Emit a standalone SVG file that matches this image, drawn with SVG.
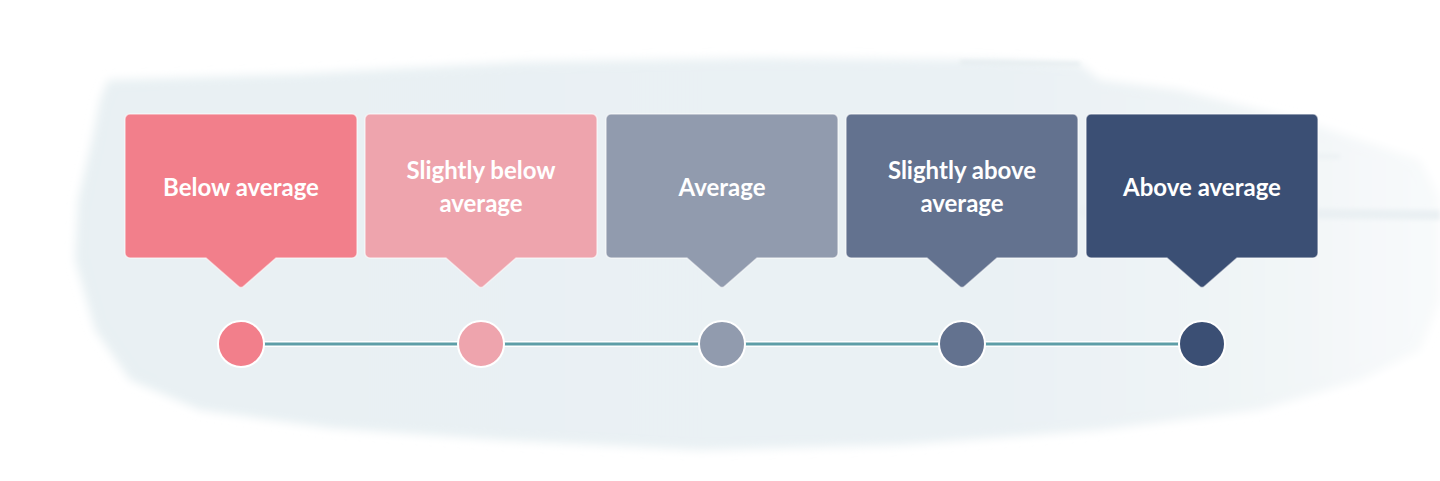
<svg xmlns="http://www.w3.org/2000/svg" width="1440" height="481" viewBox="0 0 1440 481">
<style>
.box{stroke:#ffffff;stroke-opacity:0.55;stroke-width:1.5;stroke-linejoin:round}
.lbl{font-family:Lato,"Open Sans","Liberation Sans",sans-serif;font-weight:700;font-size:24px;fill:#ffffff;text-anchor:middle}
.dot{stroke:#ffffff;stroke-width:2}
</style>
<defs>
<filter id="soft" x="-5%" y="-10%" width="110%" height="120%"><feGaussianBlur stdDeviation="5"/></filter>
<filter id="soft2" x="-5%" y="-50%" width="110%" height="200%"><feGaussianBlur stdDeviation="2"/></filter>
<linearGradient id="fade" x1="0" y1="0" x2="1440" y2="0" gradientUnits="userSpaceOnUse">
<stop offset="0" stop-color="#e8f0f3"/>
<stop offset="0.7" stop-color="#eaf1f4"/>
<stop offset="0.85" stop-color="#eff4f6"/>
<stop offset="1" stop-color="#f8fafb"/>
</linearGradient>
</defs>
<rect width="1440" height="481" fill="#ffffff"/>
<g id="background">
<path d="M108 80 L300 74 L520 62 L760 58 L1000 60 L1080 64 L1100 80 L1180 90 L1300 120 L1420 160 L1440 200 L1440 300 L1420 350 L1360 380 L1260 410 L1100 430 L900 445 L700 450 L500 440 L330 428 L200 410 L130 380 L95 330 L75 260 L78 200 L92 140 L100 100 Z" fill="url(#fade)" filter="url(#soft)"/>
<path d="M1080 206 L1440 210 L1440 220 L1080 217 Z" fill="#eaf0f3" filter="url(#soft2)"/>
<path d="M1100 150 L1340 154 L1340 159 L1100 158 Z" fill="#edf2f4" filter="url(#soft2)"/>
<path d="M960 60 L1080 62 L1080 66 L960 65 Z" fill="#e6edf0" filter="url(#soft2)"/>
</g>
<g id="connectors">
<line x1="241" y1="344" x2="1202" y2="344" stroke="#ffffff" stroke-width="6"/>
<line x1="241" y1="344" x2="1202" y2="344" stroke="#5e9ea7" stroke-width="3"/>
</g>
<g id="node1">
<path class="box" fill="#f27f8b" d="M130 114 H352 A5 5 0 0 1 357 119 V253 A5 5 0 0 1 352 258 H276 L244 286 Q241 289 238 286 L206 258 H130 A5 5 0 0 1 125 253 V119 A5 5 0 0 1 130 114 Z"/>
<text class="lbl" x="241" y="196">Below average</text>
<circle class="dot" cx="241" cy="344" r="23" fill="#f27f8b"/>
</g>
<g id="node2">
<path class="box" fill="#eea4ad" d="M370 114 H592 A5 5 0 0 1 597 119 V253 A5 5 0 0 1 592 258 H516 L484 286 Q481 289 478 286 L446 258 H370 A5 5 0 0 1 365 253 V119 A5 5 0 0 1 370 114 Z"/>
<text class="lbl" x="481" y="179">Slightly below</text>
<text class="lbl" x="481" y="212">average</text>
<circle class="dot" cx="481" cy="344" r="23" fill="#eea4ad"/>
</g>
<g id="node3">
<path class="box" fill="#919bae" d="M611 114 H833 A5 5 0 0 1 838 119 V253 A5 5 0 0 1 833 258 H757 L725 286 Q722 289 719 286 L687 258 H611 A5 5 0 0 1 606 253 V119 A5 5 0 0 1 611 114 Z"/>
<text class="lbl" x="722" y="196">Average</text>
<circle class="dot" cx="722" cy="344" r="23" fill="#919bae"/>
</g>
<g id="node4">
<path class="box" fill="#63728f" d="M851 114 H1073 A5 5 0 0 1 1078 119 V253 A5 5 0 0 1 1073 258 H997 L965 286 Q962 289 959 286 L927 258 H851 A5 5 0 0 1 846 253 V119 A5 5 0 0 1 851 114 Z"/>
<text class="lbl" x="962" y="179">Slightly above</text>
<text class="lbl" x="962" y="212">average</text>
<circle class="dot" cx="962" cy="344" r="23" fill="#63728f"/>
</g>
<g id="node5">
<path class="box" fill="#3b4f74" d="M1091 114 H1313 A5 5 0 0 1 1318 119 V253 A5 5 0 0 1 1313 258 H1237 L1205 286 Q1202 289 1199 286 L1167 258 H1091 A5 5 0 0 1 1086 253 V119 A5 5 0 0 1 1091 114 Z"/>
<text class="lbl" x="1202" y="196">Above average</text>
<circle class="dot" cx="1202" cy="344" r="23" fill="#3b4f74"/>
</g>
</svg>
